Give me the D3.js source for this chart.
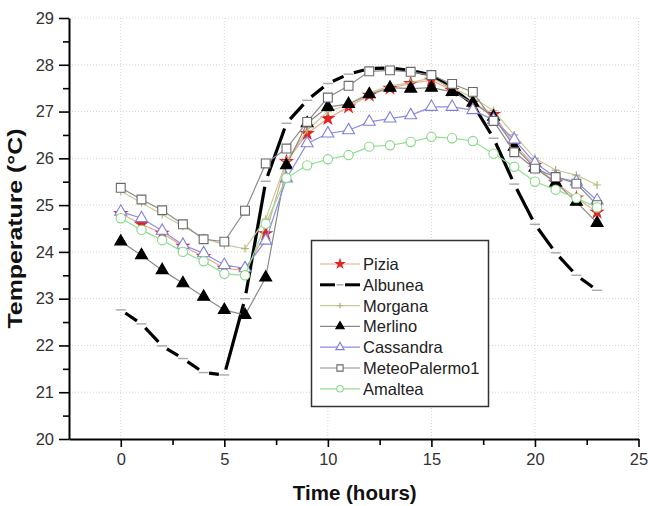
<!DOCTYPE html>
<html>
<head>
<meta charset="utf-8">
<script src="https://cdn.jsdelivr.net/npm/d3@7"></script>
<style>
  html, body { margin: 0; padding: 0; background: #fff; }
  svg { display: block; font-family: "Liberation Sans", Arial, sans-serif; }
</style>
</head>
<body>
<svg id="chart" width="648" height="506"></svg>
<script>
// Hourly air temperature for each station (°C), hours 0..23
const hours = d3.range(0, 24);

const pizia = [24.82, 24.59, 24.40, 24.12, 23.90, 23.65, 23.60, 24.39, 25.93, 26.53, 26.85, 27.10,
               27.35, 27.50, 27.60, 27.67, 27.45, 27.20, 26.94, 26.30, 25.85, 25.48, 25.15, 24.85];
const albunea = [22.76, 22.46, 21.99, 21.72, 21.42, 21.37, 23.00, 25.51, 26.75, 27.24, 27.60, 27.80,
                 27.92, 27.93, 27.88, 27.78, 27.50, 27.16, 26.43, 25.45, 24.59, 23.98, 23.50, 23.18];
const morgana = [25.30, 25.05, 24.80, 24.55, 24.30, 24.15, 24.07, 24.70, 25.95, 26.60, 27.00, 27.15,
                 27.40, 27.55, 27.62, 27.72, 27.50, 27.30, 27.02, 26.50, 26.00, 25.75, 25.64, 25.43];
const merlino = [24.22, 23.93, 23.61, 23.33, 23.04, 22.76, 22.65, 23.45, 25.85, 26.75, 27.10, 27.16,
                 27.37, 27.51, 27.49, 27.51, 27.42, 27.19, 26.89, 26.25, 25.80, 25.48, 25.07, 24.62];
const cassandra = [24.86, 24.72, 24.45, 24.15, 23.97, 23.72, 23.65, 24.24, 25.57, 26.32, 26.53, 26.60,
                   26.78, 26.85, 26.92, 27.10, 27.10, 27.03, 26.82, 26.40, 25.90, 25.60, 25.50, 25.10];
const meteoPalermo1 = [25.37, 25.12, 24.89, 24.59, 24.27, 24.22, 24.88, 25.89, 26.21, 26.78, 27.30, 27.55,
                       27.86, 27.88, 27.85, 27.78, 27.59, 27.42, 26.80, 26.13, 25.78, 25.60, 25.46, 25.00];
const amaltea = [24.72, 24.47, 24.25, 24.00, 23.80, 23.53, 23.50, 24.60, 25.58, 25.85, 25.98, 26.07,
                 26.25, 26.28, 26.35, 26.46, 26.43, 26.37, 26.10, 25.82, 25.50, 25.33, 25.15, 24.95];

const seriesNames = ["Pizia", "Albunea", "Morgana", "Merlino", "Cassandra", "MeteoPalermo1", "Amaltea"];
const seriesValues = [pizia, albunea, morgana, merlino, cassandra, meteoPalermo1, amaltea];

const xTicks = [0, 5, 10, 15, 20, 25];
const yTicks = [20, 21, 22, 23, 24, 25, 26, 27, 28, 29];
const xLabel = "Time (hours)";
const yLabel = "Temperature (°C)";

// Per-series look: line colour, marker kind and marker colours
const styles = {
  "Pizia":         { line: "#eaa88a", width: 1.2, marker: "star",     stroke: "#e02424", fill: "#e02424" },
  "Albunea":       { line: "#000000", width: 3.2, marker: "dash",     stroke: "#a8a8a8", fill: "none" },
  "Morgana":       { line: "#c9c99a", width: 1.2, marker: "plus",     stroke: "#b3b37a", fill: "none" },
  "Merlino":       { line: "#8a8a8a", width: 1.2, marker: "triangle", stroke: "#000000", fill: "#000000" },
  "Cassandra":     { line: "#8c8ce6", width: 1.2, marker: "triangle", stroke: "#8080d8", fill: "#ffffff" },
  "MeteoPalermo1": { line: "#8c8c8c", width: 1.2, marker: "square",   stroke: "#6a6a6a", fill: "#ffffff" },
  "Amaltea":       { line: "#90e090", width: 1.2, marker: "circle",   stroke: "#86d886", fill: "#ffffff" }
};

const svg = d3.select("#chart");
const x = d3.scaleLinear().domain([-2.5, 25]).range([69, 638.5]);
const y = d3.scaleLinear().domain([20, 29]).range([439, 18]);

// Dotted grid at the major ticks
const grid = svg.append("g");
grid.selectAll("line.gx").data(xTicks).join("line")
  .attr("x1", d => x(d)).attr("x2", d => x(d))
  .attr("y1", y(29)).attr("y2", y(20))
  .attr("stroke", "#d4d4d4").attr("stroke-width", 1).attr("stroke-dasharray", "1,2");
grid.selectAll("line.gy").data(yTicks.slice(1)).join("line")
  .attr("x1", x(-2.5)).attr("x2", x(25))
  .attr("y1", d => y(d)).attr("y2", d => y(d))
  .attr("stroke", "#d4d4d4").attr("stroke-width", 1).attr("stroke-dasharray", "1,2");

// Axes: major ticks with labels, then minor ticks without
svg.append("g").attr("transform", `translate(0,${y(20)})`)
  .call(d3.axisBottom(x).tickValues(xTicks).tickSize(8).tickPadding(6).tickSizeOuter(0));
svg.append("g").attr("transform", `translate(0,${y(20)})`)
  .call(d3.axisBottom(x).tickValues([2.5, 7.5, 12.5, 17.5, 22.5]).tickSize(6).tickFormat("").tickSizeOuter(0))
  .call(g => g.select(".domain").remove());
svg.append("g").attr("transform", `translate(${x(-2.5)},0)`)
  .call(d3.axisLeft(y).tickValues(yTicks).tickSize(10).tickPadding(5).tickSizeOuter(0));
svg.append("g").attr("transform", `translate(${x(-2.5)},0)`)
  .call(d3.axisLeft(y).tickValues(d3.range(20.5, 29, 1)).tickSize(6).tickFormat("").tickSizeOuter(0))
  .call(g => g.select(".domain").remove());

svg.selectAll(".domain").attr("stroke", "#000").attr("stroke-width", 2);
svg.selectAll(".tick line").attr("stroke", "#000").attr("stroke-width", 1.6);
svg.selectAll(".tick text").attr("fill", "#333").style("font-size", "16.5px")
  .style("font-family", "'Liberation Sans', Arial, sans-serif");

svg.append("text")
  .attr("x", (x(-2.5) + x(25)) / 2 + 1).attr("y", 500)
  .attr("text-anchor", "middle")
  .style("font-size", "20.5px").style("font-weight", "bold").attr("fill", "#111")
  .text(xLabel);
svg.append("text")
  .attr("transform", `translate(22,${(y(20) + y(29)) / 2}) rotate(-90)`)
  .attr("text-anchor", "middle")
  .attr("textLength", 200).attr("lengthAdjust", "spacingAndGlyphs")
  .style("font-size", "21px").style("font-weight", "bold").attr("fill", "#111")
  .text(yLabel);

// Marker drawing helper; scale shrinks the marker for the legend
const symbolSizes = { star: 44, triangle: 62, square: 78, circle: 68 };
const symbolTypes = { star: d3.symbolStar, triangle: d3.symbolTriangle, square: d3.symbolSquare, circle: d3.symbolCircle };
function drawMarker(g, kind, cx, cy, st, scale = 1) {
  if (kind === "dash") {
    g.append("line").attr("x1", cx - 5 * scale).attr("x2", cx + 5 * scale).attr("y1", cy).attr("y2", cy)
      .attr("stroke", st.stroke).attr("stroke-width", 1.4);
  } else if (kind === "plus") {
    const r = 4 * scale;
    g.append("path").attr("d", `M${cx - r},${cy}H${cx + r}M${cx},${cy - r}V${cy + r}`)
      .attr("stroke", st.stroke).attr("stroke-width", 1.2).attr("fill", "none");
  } else {
    g.append("path").attr("d", d3.symbol().type(symbolTypes[kind]).size(symbolSizes[kind] * scale * scale)())
      .attr("transform", `translate(${cx},${cy})`)
      .attr("fill", st.fill).attr("stroke", st.stroke).attr("stroke-width", 1.1);
  }
}

const line = d3.line().x(d => x(d[0])).y(d => y(d[1]));

seriesNames.forEach((name, i) => {
  const st = styles[name];
  const pts = hours.map((h, j) => [h, seriesValues[i][j]]);
  const g = svg.append("g");
  if (name === "Albunea") {
    // thick black segments broken at each reading, where a grey dash sits
    pts.slice(1).forEach((p, j) => {
      const a = pts[j];
      const x1 = x(a[0]), y1 = y(a[1]), x2 = x(p[0]), y2 = y(p[1]);
      const len = Math.hypot(x2 - x1, y2 - y1), gap = 5.5;
      const ux = (x2 - x1) / len, uy = (y2 - y1) / len;
      g.append("line")
        .attr("x1", x1 + ux * gap).attr("y1", y1 + uy * gap)
        .attr("x2", x2 - ux * gap).attr("y2", y2 - uy * gap)
        .attr("stroke", st.line).attr("stroke-width", st.width);
    });
  } else {
    g.append("path").datum(pts).attr("d", line)
      .attr("fill", "none").attr("stroke", st.line).attr("stroke-width", st.width);
  }
  pts.forEach(p => drawMarker(g, st.marker, x(p[0]), y(p[1]), st));
});

// Legend
const lg = svg.append("g");
lg.append("rect").attr("x", 311.5).attr("y", 240.5).attr("width", 177).attr("height", 166)
  .attr("fill", "#fff").attr("stroke", "#333").attr("stroke-width", 1.5);
seriesNames.forEach((name, i) => {
  const st = styles[name];
  const cy = 264 + i * 20.8;
  const row = lg.append("g");
  if (name === "Albunea") {
    row.append("line").attr("x1", 320).attr("x2", 335).attr("y1", cy).attr("y2", cy)
      .attr("stroke", "#000").attr("stroke-width", 3);
    row.append("line").attr("x1", 345).attr("x2", 360).attr("y1", cy).attr("y2", cy)
      .attr("stroke", "#000").attr("stroke-width", 3);
  } else {
    row.append("line").attr("x1", 320).attr("x2", 360).attr("y1", cy).attr("y2", cy)
      .attr("stroke", st.line).attr("stroke-width", 1.2);
  }
  drawMarker(row, st.marker, 340, cy, st, 0.7);
  row.append("text").attr("x", 363).attr("y", cy + 6)
    .style("font-size", "16.5px").attr("fill", "#222").text(name);
});
</script>
</body>
</html>
